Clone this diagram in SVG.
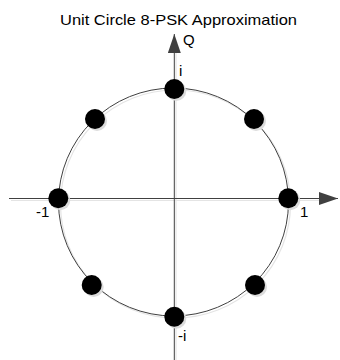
<svg xmlns="http://www.w3.org/2000/svg" width="340" height="360" viewBox="0 0 340 360">
<style>
.t{font-family:"Liberation Sans",Arial,sans-serif;font-size:15px;fill:#000}
.ax{stroke:#404040;stroke-width:1;fill:none}
.sh{stroke:#e4e4e4;stroke-width:1.2;fill:none}
.dot{fill:#000}
.dsh{fill:#dcdcdc}
</style>
<defs>
<marker id="arr" viewBox="0 0 10 10" refX="10" refY="5" markerWidth="19" markerHeight="13" markerUnits="userSpaceOnUse" orient="auto" preserveAspectRatio="none">
<path d="M0,0 L10,5 L0,10 Z" fill="#404040"/>
</marker>
</defs>
<rect width="340" height="360" fill="#fff"/>
<text class="t" x="60" y="25" textLength="237" lengthAdjust="spacingAndGlyphs">Unit Circle 8-PSK Approximation</text>
<g id="connectors">
<ellipse class="sh" cx="175.5" cy="204" rx="115" ry="114"/>
<line class="sh" x1="11" y1="200.5" x2="320" y2="200.5"/>
<line class="sh" x1="176" y1="52" x2="176" y2="360"/>
<ellipse class="ax" cx="173.5" cy="202" rx="115" ry="114"/>
<line class="ax" x1="9" y1="198.5" x2="338" y2="198.5" marker-end="url(#arr)"/>
<line class="ax" x1="174.3" y1="360" x2="174.3" y2="34" marker-end="url(#arr)"/>
</g>
<g id="node-i"><circle class="dsh" cx="176.3" cy="91" r="10"/><circle class="dot" cx="174.3" cy="89" r="10"/><text class="t" x="179" y="76">i</text></g>
<g id="node-mi"><circle class="dsh" cx="176.3" cy="318.7" r="10"/><circle class="dot" cx="174.3" cy="316.7" r="10"/><text class="t" x="178" y="341">-i</text></g>
<g id="node-m1"><circle class="dsh" cx="60.3" cy="200.3" r="10"/><circle class="dot" cx="58.3" cy="198.3" r="10"/><text class="t" x="36" y="217">-1</text></g>
<g id="node-1"><circle class="dsh" cx="290.3" cy="200.3" r="10"/><circle class="dot" cx="288.3" cy="198.3" r="10"/><text class="t" x="300" y="217">1</text></g>
<g id="node-ul"><circle class="dsh" cx="97" cy="121" r="10"/><circle class="dot" cx="95" cy="119" r="10"/></g>
<g id="node-ur"><circle class="dsh" cx="256" cy="121" r="10"/><circle class="dot" cx="254" cy="119" r="10"/></g>
<g id="node-ll"><circle class="dsh" cx="93.7" cy="287" r="10"/><circle class="dot" cx="91.7" cy="285" r="10"/></g>
<g id="node-lr"><circle class="dsh" cx="257" cy="287" r="10"/><circle class="dot" cx="255" cy="285" r="10"/></g>
<text class="t" x="183" y="45">Q</text>
</svg>
